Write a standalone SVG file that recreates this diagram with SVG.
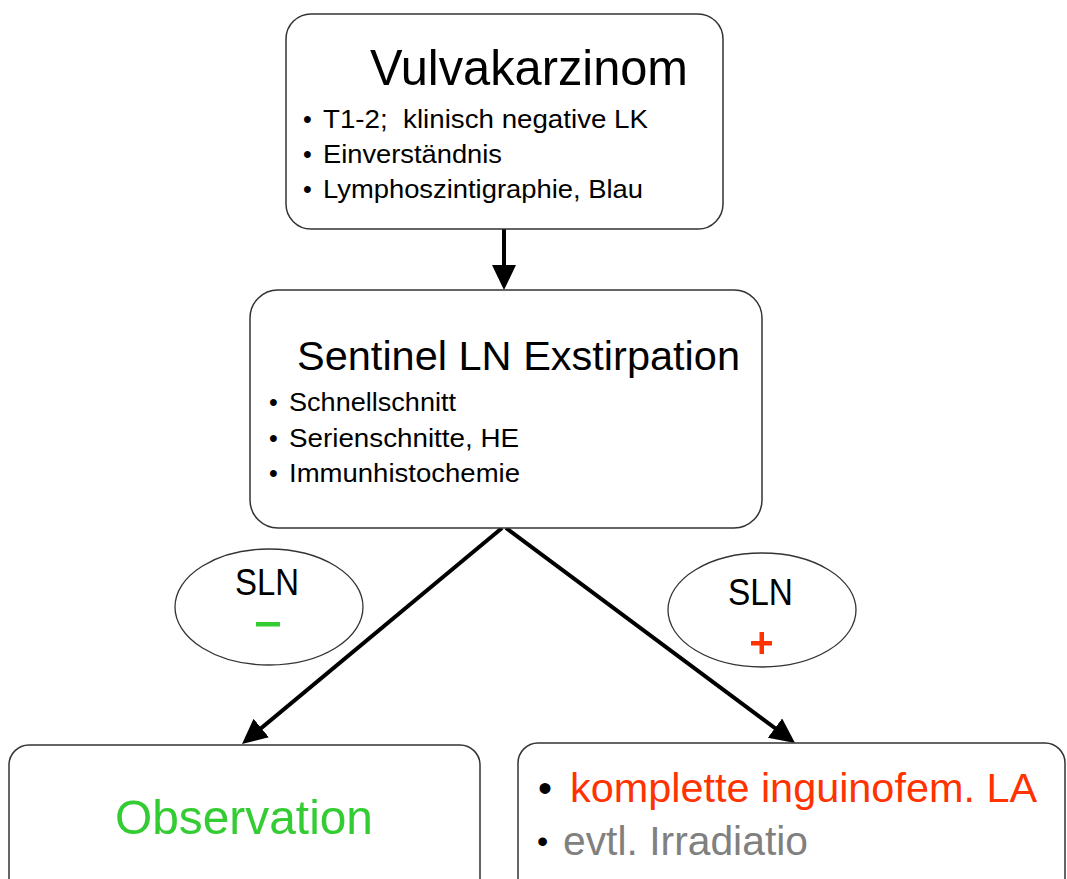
<svg xmlns="http://www.w3.org/2000/svg" width="1067" height="879" viewBox="0 0 1067 879">
<defs>
<style>
.box{fill:#fff;stroke:#333;stroke-width:1.5}
.ell{fill:#fff;stroke:#333;stroke-width:1.3}
.t{font-family:"Liberation Sans",Arial,sans-serif;fill:#000}
.conn{stroke:#000;stroke-width:4;fill:none}
</style>
<marker id="ah" markerUnits="userSpaceOnUse" markerWidth="26" markerHeight="26" refX="15" refY="12" orient="auto">
<path d="M0,0 L25,12 L0,24 z" fill="#000"/>
</marker>
</defs>
<rect width="1067" height="879" fill="#fff"/>
<g id="connectors">
<line class="conn" x1="504" y1="229" x2="504" y2="280" marker-end="url(#ah)"/>
<line class="conn" x1="502" y1="528" x2="249.7" y2="737.6" marker-end="url(#ah)"/>
<line class="conn" x1="506" y1="528" x2="787" y2="737" marker-end="url(#ah)"/>
</g>
<g id="vulvakarzinom">
<rect class="box" x="286" y="14" width="437" height="215" rx="25"/>
<text class="t" x="370" y="85" font-size="50" textLength="318" lengthAdjust="spacingAndGlyphs">Vulvakarzinom</text>
<text class="t" x="303" y="128" font-size="25">•</text>
<text class="t" x="323" y="128" font-size="26" xml:space="preserve" textLength="325" lengthAdjust="spacingAndGlyphs">T1-2;  klinisch negative LK</text>
<text class="t" x="303" y="163" font-size="25">•</text>
<text class="t" x="323" y="163" font-size="26" textLength="179" lengthAdjust="spacingAndGlyphs">Einverständnis</text>
<text class="t" x="303" y="198" font-size="25">•</text>
<text class="t" x="323" y="198" font-size="26" textLength="320" lengthAdjust="spacingAndGlyphs">Lymphoszintigraphie, Blau</text>
</g>
<g id="sentinel">
<rect class="box" x="250" y="290" width="512" height="238" rx="28"/>
<text class="t" x="297" y="370" font-size="41" textLength="443" lengthAdjust="spacingAndGlyphs">Sentinel LN Exstirpation</text>
<text class="t" x="269" y="411" font-size="25">•</text>
<text class="t" x="289" y="411" font-size="26" textLength="167" lengthAdjust="spacingAndGlyphs">Schnellschnitt</text>
<text class="t" x="269" y="447" font-size="25">•</text>
<text class="t" x="289" y="447" font-size="26" textLength="230" lengthAdjust="spacingAndGlyphs">Serienschnitte, HE</text>
<text class="t" x="269" y="482" font-size="25">•</text>
<text class="t" x="289" y="482" font-size="26" textLength="231" lengthAdjust="spacingAndGlyphs">Immunhistochemie</text>
</g>
<g id="sln-neg">
<ellipse class="ell" cx="269" cy="607" rx="94" ry="58"/>
<text class="t" x="235" y="595" font-size="36" textLength="64" lengthAdjust="spacingAndGlyphs">SLN</text>
<rect x="256" y="622" width="24" height="4.5" fill="#33CC33"/>
</g>
<g id="sln-pos">
<ellipse class="ell" cx="762" cy="610" rx="94" ry="57"/>
<text class="t" x="728" y="605" font-size="36" textLength="65" lengthAdjust="spacingAndGlyphs">SLN</text>
<rect x="751" y="641" width="21" height="4.5" fill="#FF3300"/>
<rect x="759.5" y="632" width="4.5" height="22" fill="#FF3300"/>
</g>
<g id="observation">
<rect class="box" x="9" y="745" width="471" height="160" rx="20"/>
<text class="t" x="115" y="834" font-size="49" style="fill:#33CC33" textLength="258" lengthAdjust="spacingAndGlyphs">Observation</text>
</g>
<g id="therapy">
<rect class="box" x="518" y="743" width="547" height="160" rx="20"/>
<text class="t" x="538" y="802" font-size="40">•</text>
<text class="t" x="570" y="802" font-size="41" style="fill:#FF3300" textLength="467" lengthAdjust="spacingAndGlyphs">komplette inguinofem. LA</text>
<text class="t" x="537" y="852" font-size="32">•</text>
<text class="t" x="563" y="855" font-size="41" style="fill:#808080" textLength="245" lengthAdjust="spacingAndGlyphs">evtl. Irradiatio</text>
</g>
</svg>
